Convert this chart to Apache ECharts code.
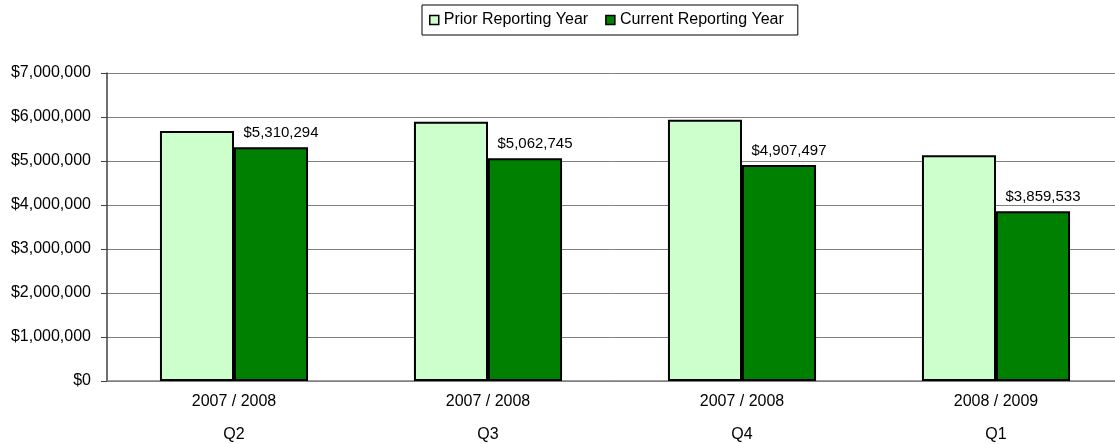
<!DOCTYPE html>
<html>
<head>
<meta charset="utf-8">
<script src="https://cdn.jsdelivr.net/npm/echarts@6/dist/echarts.min.js"></script>
<style>
  html, body { margin: 0; padding: 0; background: #fff; }
  #chart { width: 1115px; height: 444px; }
</style>
</head>
<body>
<div id="chart"></div>
<script>
// Quarterly totals, prior vs current reporting year
const categories = ['2007 / 2008\nQ2', '2007 / 2008\nQ3', '2007 / 2008\nQ4', '2008 / 2009\nQ1'];
const priorYear = [5680000, 5893000, 5940000, 5130000];
const currentYear = [5310294, 5062745, 4907497, 3859533];
const yTicks = { min: 0, max: 7000000, interval: 1000000 };

const FONT = 'Liberation Sans, Arial, sans-serif';

function money(v) {
  return '$' + Math.round(v).toLocaleString('en-US');
}

const chart = echarts.init(document.getElementById('chart'), null, { renderer: 'canvas' });

chart.setOption({
  animation: false,
  backgroundColor: '#ffffff',
  textStyle: { fontFamily: FONT, color: '#000' },
  legend: {
    left: 422,
    top: 5,
    padding: [7, 14, 7, 7],
    icon: 'rect',
    itemWidth: 9,
    itemHeight: 9,
    itemGap: 17,
    borderColor: '#000',
    borderWidth: 1,
    textStyle: { fontFamily: FONT, fontSize: 16, color: '#000' },
    data: [
      { name: 'Prior Reporting Year', itemStyle: { color: '#CCFFCC', borderColor: '#000', borderWidth: 1.5 } },
      { name: 'Current Reporting Year', itemStyle: { color: '#008000', borderColor: '#000', borderWidth: 1.5 } }
    ]
  },
  grid: { left: 107, right: -8, top: 73, bottom: 63, outerBoundsMode: 'none', containLabel: false },
  xAxis: {
    type: 'category',
    data: categories,
    axisLine: { lineStyle: { color: '#808080', width: 1.5 } },
    axisTick: { show: false },
    axisLabel: {
      fontFamily: FONT,
      fontSize: 16,
      color: '#000',
      lineHeight: 33,
      margin: 4
    }
  },
  yAxis: {
    type: 'value',
    min: yTicks.min,
    max: yTicks.max,
    interval: yTicks.interval,
    axisLine: { show: true, lineStyle: { color: '#404040', width: 1.5 } },
    axisTick: { show: true, length: 6, lineStyle: { color: '#404040', width: 1 } },
    splitLine: { lineStyle: { color: '#808080', width: 1 } },
    axisLabel: {
      fontFamily: FONT,
      fontSize: 16,
      color: '#000',
      margin: 16,
      formatter: money
    }
  },
  series: [
    {
      name: 'Prior Reporting Year',
      type: 'bar',
      data: priorYear,
      barGap: '0%',
      barCategoryGap: '41.7%',
      itemStyle: { color: '#CCFFCC', borderColor: '#000', borderWidth: 2 }
    },
    {
      name: 'Current Reporting Year',
      type: 'bar',
      data: currentYear,
      barGap: '0%',
      barCategoryGap: '41.7%',
      itemStyle: { color: '#008000', borderColor: '#000', borderWidth: 2 },
      label: {
        show: true,
        position: 'top',
        distance: 7,
        offset: [10, 0],
        fontFamily: FONT,
        fontSize: 15,
        color: '#000',
        formatter: p => money(p.value)
      }
    }
  ]
});
</script>
</body>
</html>
